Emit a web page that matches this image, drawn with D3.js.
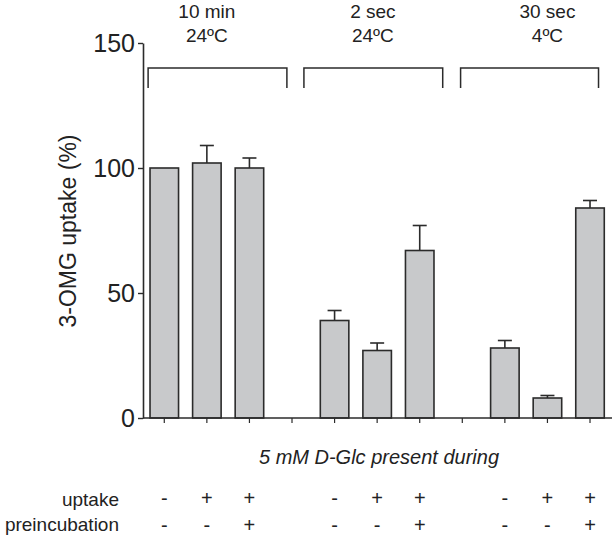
<!DOCTYPE html>
<html>
<head>
<meta charset="utf-8">
<script src="https://cdn.jsdelivr.net/npm/d3@7"></script>
<style>
  html, body { margin: 0; padding: 0; background: #fff; }
  svg { display: block; font-family: "Liberation Sans", Arial, sans-serif; }
</style>
</head>
<body>
<svg id="chart" width="612" height="545"></svg>
<script>
// ---- data ----
const categories = ["10min_a", "10min_b", "10min_c", "gap1", "2sec_a", "2sec_b", "2sec_c", "gap2", "30sec_a", "30sec_b", "30sec_c"];
const means  = [100, 102, 100, null, 39, 27, 67, null, 28, 8, 84];
const errors = [0, 7, 4, null, 4, 3, 10, null, 3, 1, 3];
const uptakeSigns = ["-", "+", "+", "", "-", "+", "+", "", "-", "+", "+"];
const preincSigns = ["-", "-", "+", "", "-", "-", "+", "", "-", "-", "+"];
const groupLine1 = ["10 min", "2 sec", "30 sec"];
const groupLine2 = ["24ºC", "24ºC", "4ºC"];
const groupCenters = [1, 4.9, 9];            // category-index units
const bracketStart = [-0.38, 3.28, 6.96];    // category-index units
const bracketEnd   = [2.88, 6.54, 10.2];
const yTicks = [0, 50, 100, 150];

// ---- layout ----
const svg = d3.select("#chart");
const x = d3.scaleBand().domain(categories).range([143, 611.3]).paddingInner(0.33).paddingOuter(0.165);
const xi = d3.scaleLinear().domain([0, 10]).range([x(categories[0]) + x.bandwidth() / 2, x(categories[10]) + x.bandwidth() / 2]);
const y = d3.scaleLinear().domain([0, 150]).range([418, 43]);
const ink = "#2b2b2b";
const capW = 14;

// bars
const rows = categories.map((c, i) => ({c, i, v: means[i], e: errors[i]})).filter(d => d.v !== null);

// error bars (upper only)
const eb = svg.append("g").attr("stroke", ink).attr("stroke-width", 1.6).attr("fill", "none");
rows.filter(d => d.e > 0).forEach(d => {
  const cx = x(d.c) + x.bandwidth() / 2;
  eb.append("line").attr("x1", cx).attr("x2", cx).attr("y1", y(d.v)).attr("y2", y(d.v + d.e));
  eb.append("line").attr("x1", cx - capW / 2).attr("x2", cx + capW / 2).attr("y1", y(d.v + d.e)).attr("y2", y(d.v + d.e));
});

svg.append("g").selectAll("rect").data(rows).join("rect")
  .attr("x", d => x(d.c))
  .attr("width", x.bandwidth())
  .attr("y", d => y(d.v))
  .attr("height", d => y(0) - y(d.v))
  .attr("fill", "#c8c9cb")
  .attr("stroke", ink)
  .attr("stroke-width", 1.6);

// y axis
const yAxis = svg.append("g").attr("transform", "translate(143,0)")
  .call(d3.axisLeft(y).tickValues(yTicks).tickSize(5).tickPadding(3).tickSizeOuter(0));
yAxis.select(".domain").attr("stroke", ink).attr("stroke-width", 1.6);
yAxis.selectAll(".tick line").attr("stroke", ink).attr("stroke-width", 1.4);
yAxis.selectAll(".tick text").attr("font-size", 25).attr("fill", "#222")
  .attr("font-family", "Liberation Sans, Arial, sans-serif");

// x axis
const xAxis = svg.append("g").attr("transform", "translate(0,418)")
  .call(d3.axisBottom(x).tickSize(5).tickSizeOuter(0).tickFormat(""));
xAxis.select(".domain").attr("stroke", ink).attr("stroke-width", 1.6).attr("d", "M143,0H612");
xAxis.selectAll(".tick line").attr("stroke", ink).attr("stroke-width", 1.2);

// y axis title
svg.append("text")
  .attr("transform", "translate(76,231) rotate(-90)")
  .attr("text-anchor", "middle")
  .attr("font-size", 23)
  .attr("fill", "#222")
  .text("3-OMG uptake (%)");

// brackets
const br = svg.append("g").attr("stroke", ink).attr("stroke-width", 1.5).attr("fill", "none");
bracketStart.forEach((s, k) => {
  const x0 = xi(s), x1 = xi(bracketEnd[k]);
  br.append("path").attr("d", `M${x0},${y(132)}V${y(140)}H${x1}V${y(132)}`);
});

// group labels
groupLine1.forEach((t, k) => {
  svg.append("text").attr("x", xi(groupCenters[k])).attr("y", 17.5)
    .attr("text-anchor", "middle").attr("font-size", 19).attr("fill", "#222").text(t);
  svg.append("text").attr("x", xi(groupCenters[k])).attr("y", 42)
    .attr("text-anchor", "middle").attr("font-size", 19).attr("fill", "#222").text(groupLine2[k]);
});

// bottom annotation
svg.append("text").attr("x", 379).attr("y", 463.5)
  .attr("text-anchor", "middle").attr("font-size", 20).attr("font-style", "italic")
  .attr("fill", "#222").text("5 mM D-Glc present during");

svg.append("text").attr("x", 119).attr("y", 505.5).attr("text-anchor", "end")
  .attr("font-size", 19).attr("fill", "#222").text("uptake");
svg.append("text").attr("x", 119).attr("y", 531).attr("text-anchor", "end")
  .attr("font-size", 19).attr("fill", "#222").text("preincubation");

const signs = svg.append("g").attr("font-size", 20).attr("fill", "#222").attr("text-anchor", "middle");
categories.forEach((c, i) => {
  const cx = x(c) + x.bandwidth() / 2;
  if (uptakeSigns[i]) signs.append("text").attr("x", cx).attr("y", 505).text(uptakeSigns[i]);
  if (preincSigns[i]) signs.append("text").attr("x", cx).attr("y", 532).text(preincSigns[i]);
});
</script>
</body>
</html>
